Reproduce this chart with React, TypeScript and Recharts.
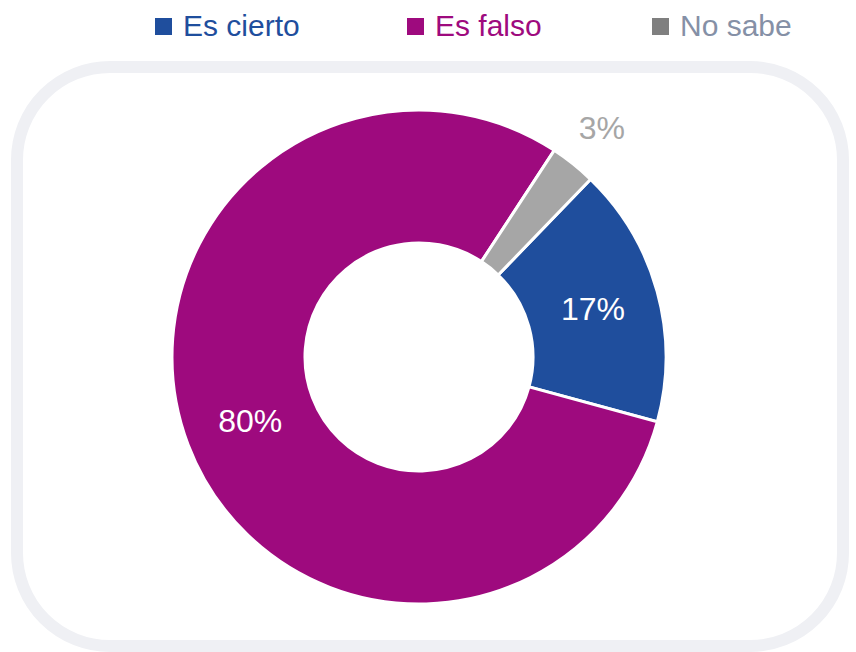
import { PieChart, Pie, Cell } from "recharts";

const categories = ["Es cierto", "Es falso", "No sabe"];
const values = [17, 80, 3];
const sliceColors = ["#1F4E9D", "#9E0A7E", "#A6A6A6"];
const legendSquareColors = ["#1F4E9D", "#9E0A7E", "#7F7F7F"];
const legendTextColors = ["#1F4E9D", "#9E0A7E", "#8590A6"];

const data = categories.map((name, i) => ({ name, value: values[i] }));

const FONT = '"Liberation Sans", Arial, sans-serif';
const RAD = Math.PI / 180;

// white labels in the ring, the small slice gets its label outside
function renderLabel(props: any) {
  const { cx, cy, midAngle, innerRadius, outerRadius, index, value } = props;
  const small = value < 5;
  const r = small ? outerRadius + 46 : (innerRadius + outerRadius) / 2;
  const x = cx + r * Math.cos(-midAngle * RAD);
  const y = cy + r * Math.sin(-midAngle * RAD);
  return (
    <text
      x={x}
      y={y}
      fill={small ? "#A6A6A6" : "#ffffff"}
      textAnchor="middle"
      dominantBaseline="central"
      fontFamily={FONT}
      fontSize={32}
    >
      {`${values[index]}%`}
    </text>
  );
}

function LegendRow() {
  const widths = [252, 245, 140];
  return (
    <div style={{ display: "flex", paddingLeft: 155, fontFamily: FONT, fontSize: 30 }}>
      {categories.map((c, i) => (
        <div key={c} style={{ width: widths[i], display: "flex", alignItems: "center" }}>
          <span
            style={{
              display: "inline-block",
              width: 17,
              height: 17,
              background: legendSquareColors[i],
              marginRight: 11,
            }}
          />
          <span style={{ color: legendTextColors[i], lineHeight: "34px" }}>{c}</span>
        </div>
      ))}
    </div>
  );
}

export default function App() {
  return (
    <div style={{ position: "absolute", left: 0, top: 0, width: 856, height: 652, background: "#fff", overflow: "hidden" }}>
      <div
        style={{
          position: "absolute",
          left: 11,
          top: 61,
          width: 838,
          height: 591,
          border: "12px solid #EFF0F4",
          borderRadius: 99,
          boxSizing: "border-box",
        }}
      />
      <div style={{ position: "absolute", left: 0, top: 9, width: 856 }}>
        <LegendRow />
      </div>
      <div style={{ position: "absolute", left: 0, top: 0 }}>
        <PieChart width={856} height={652} margin={{ top: 0, right: 0, bottom: 0, left: 0 }}>
          <Pie
            data={data}
            dataKey="value"
            nameKey="name"
            cx={419}
            cy={357}
            innerRadius={114}
            outerRadius={247}
            startAngle={46}
            endAngle={-314}
            stroke="#ffffff"
            strokeWidth={3}
            label={renderLabel}
            labelLine={false}
            isAnimationActive={false}
          >
            {data.map((d, i) => (
              <Cell key={d.name} fill={sliceColors[i]} />
            ))}
          </Pie>
        </PieChart>
      </div>
    </div>
  );
}
